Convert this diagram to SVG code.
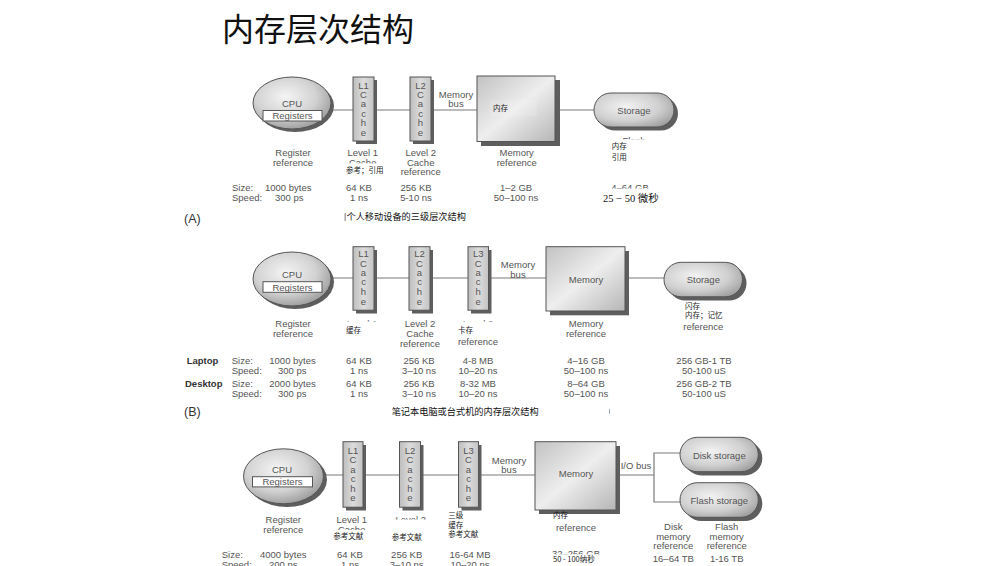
<svg xmlns="http://www.w3.org/2000/svg" width="1006" height="566" viewBox="0 0 1006 566">
  <defs>
    <radialGradient id="gEll" cx="0.42" cy="0.38" r="0.65">
      <stop offset="0" stop-color="#f4f4f4"/>
      <stop offset="0.6" stop-color="#d2d2d2"/>
      <stop offset="1" stop-color="#9c9c9c"/>
    </radialGradient>
    <radialGradient id="gPill" cx="0.4" cy="0.4" r="0.7">
      <stop offset="0" stop-color="#f2f2f2"/>
      <stop offset="0.6" stop-color="#d0d0d0"/>
      <stop offset="1" stop-color="#a0a0a0"/>
    </radialGradient>
    <linearGradient id="gMem" x1="0" y1="0" x2="1" y2="1">
      <stop offset="0" stop-color="#c2c2c2"/>
      <stop offset="0.5" stop-color="#eeeeee"/>
      <stop offset="1" stop-color="#b6b6b6"/>
    </linearGradient>
    <linearGradient id="gCache" x1="0" y1="0" x2="1" y2="0">
      <stop offset="0" stop-color="#bdbdbd"/>
      <stop offset="0.5" stop-color="#dcdcdc"/>
      <stop offset="1" stop-color="#c4c4c4"/>
    </linearGradient>
  </defs>
  <style>
    .t{font-family:"Liberation Sans",Arial,sans-serif;font-size:9.5px;fill:#555;text-anchor:middle}
    .tl{font-family:"Liberation Sans",Arial,sans-serif;font-size:9.5px;fill:#555}
    .tb{font-family:"Liberation Sans",Arial,sans-serif;font-size:9.5px;font-weight:bold;fill:#333}
    .tag{font-family:"Liberation Sans",Arial,sans-serif;font-size:12.5px;fill:#333}
    .cj{font-family:"Noto Sans CJK SC",sans-serif;font-size:7.5px;fill:#222}
    .cap{font-family:"Noto Sans CJK SC",sans-serif;font-size:9.2px;fill:#111}
    .ln{stroke:#7a7a7a;stroke-width:1.2;fill:none}
    .sh{fill:#5e5e5e}
    .ell{fill:url(#gEll);stroke:#555;stroke-width:1}
    .pill{fill:url(#gPill);stroke:#555;stroke-width:1}
    .mem{fill:url(#gMem);stroke:#555;stroke-width:1}
    .cache{fill:url(#gCache);stroke:#555;stroke-width:1}
    .reg{fill:#fff;stroke:#555;stroke-width:1}
    .wp{fill:#fff}
  </style>
  <rect width="1006" height="566" fill="#fff"/>

  <text x="222" y="41" font-family="'Noto Sans CJK SC',sans-serif" font-size="32" fill="#111">内存层次结构</text>

  <!-- connectors -->
  <g id="connectors">
    <!-- panel A -->
    <line class="ln" x1="300" y1="110" x2="353" y2="110"/>
    <line class="ln" x1="374" y1="110" x2="410" y2="110"/>
    <line class="ln" x1="431" y1="110" x2="477" y2="110"/>
    <line class="ln" x1="555" y1="110" x2="600" y2="110"/>
    <!-- panel B -->
    <line class="ln" x1="300" y1="278" x2="353" y2="278"/>
    <line class="ln" x1="374" y1="278" x2="409" y2="278"/>
    <line class="ln" x1="430" y1="278" x2="468" y2="278"/>
    <line class="ln" x1="488" y1="278" x2="546" y2="278"/>
    <line class="ln" x1="625" y1="278" x2="670" y2="278"/>
    <!-- panel C -->
    <line class="ln" x1="300" y1="475" x2="343" y2="475"/>
    <line class="ln" x1="363" y1="475" x2="399" y2="475"/>
    <line class="ln" x1="421" y1="475" x2="458" y2="475"/>
    <line class="ln" x1="478" y1="475" x2="535" y2="475"/>
    <polyline class="ln" points="616,475 654,475"/>
    <polyline class="ln" points="686,453 654,453 654,502 686,502"/>
  </g>

  <!-- ===== Panel A: personal mobile device ===== -->
  <g id="a-cpu">
    <ellipse class="sh" cx="295" cy="106" rx="39" ry="26"/>
    <ellipse class="ell" cx="292" cy="103" rx="39" ry="26"/>
    <text class="t" x="292" y="106.5">CPU</text>
    <rect class="reg" x="263" y="110.5" width="59" height="10.5"/>
    <text class="t" x="292.5" y="119.3">Registers</text>
  </g>
  <g id="a-l1">
    <rect class="sh" x="356" y="80" width="21" height="64"/>
    <rect class="cache" x="353" y="77" width="21" height="64"/>
    <text class="t" x="363.5" y="88.5">L1<tspan x="363.5" y="97.8">C</tspan><tspan x="363.5" y="107.1">a</tspan><tspan x="363.5" y="116.5">c</tspan><tspan x="363.5" y="126.1">h</tspan><tspan x="363.5" y="135.5">e</tspan></text>
  </g>
  <g id="a-l2">
    <rect class="sh" x="413" y="80" width="21" height="64"/>
    <rect class="cache" x="410" y="77" width="21" height="64"/>
    <text class="t" x="420.5" y="88.5">L2<tspan x="420.5" y="97.8">C</tspan><tspan x="420.5" y="107.1">a</tspan><tspan x="420.5" y="116.5">c</tspan><tspan x="420.5" y="126.1">h</tspan><tspan x="420.5" y="135.5">e</tspan></text>
  </g>
  <text class="t" x="456" y="97.5">Memory<tspan x="456" y="106.5">bus</tspan></text>
  <g id="a-mem">
    <rect class="sh" x="481" y="80" width="79" height="66"/>
    <rect class="mem" x="477" y="76" width="78" height="65.5"/>
    <rect x="490" y="100" width="47" height="16" fill="#fff" opacity="0.12"/>
    <text class="cj" x="493" y="110.5">内存</text>
  </g>
  <g id="a-storage">
    <rect class="sh" x="598" y="96.5" width="80" height="34" rx="17"/>
    <rect class="pill" x="594" y="93" width="80" height="34" rx="17"/>
    <text class="t" x="634" y="113.5">Storage</text>
  </g>
  <!-- panel A labels -->
  <text class="t" x="293" y="155.5">Register<tspan x="293" y="165.5">reference</tspan></text>
  <text class="t" x="362.7" y="155.5">Level 1<tspan x="362.7" y="165.5">Cache</tspan></text>
  <rect class="wp" x="343" y="163.3" width="50" height="12"/>
  <text class="cj" x="346" y="172.5">参考；引用</text>
  <text class="t" x="420.7" y="155.5">Level 2<tspan x="420.7" y="165.5">Cache</tspan><tspan x="420.7" y="174.5">reference</tspan></text>
  <text class="t" x="516.7" y="155.5">Memory<tspan x="516.7" y="165.5">reference</tspan></text>
  <text class="t" x="634" y="143.5">Flash</text>
  <rect class="wp" x="604" y="139.3" width="70" height="26"/>
  <text class="cj" x="611.7" y="148.7">内存</text>
  <text class="cj" x="611.7" y="159.5">引用</text>

  <text class="tl" x="232" y="190.5">Size:</text>
  <text class="tl" x="232" y="200.5">Speed:</text>
  <text class="tl" x="265" y="190.5">1000 bytes</text>
  <text class="tl" x="275" y="200.5">300 ps</text>
  <text class="t" x="359" y="190.5">64 KB<tspan x="359" y="200.5">1 ns</tspan></text>
  <text class="t" x="416" y="190.5">256 KB<tspan x="416" y="200.5">5-10 ns</tspan></text>
  <text class="t" x="516" y="190.5">1–2 GB<tspan x="516" y="200.5">50–100 ns</tspan></text>
  <text class="t" x="630" y="190.5">4–64 GB</text>
  <rect class="wp" x="598" y="188.6" width="68" height="16"/>
  <text x="603" y="202.3" font-family="'Liberation Serif','Noto Sans CJK SC',serif" font-size="10.5" fill="#111">25 − 50 微秒</text>

  <text class="tag" x="184" y="222.5">(A)</text>
  <rect x="344.5" y="213" width="1.3" height="8" fill="#999"/>
  <text class="cap" x="346.5" y="220">个人移动设备的三级层次结构</text>

  <!-- ===== Panel B: laptop / desktop ===== -->
  <g id="b-cpu">
    <ellipse class="sh" cx="295" cy="282" rx="39" ry="27"/>
    <ellipse class="ell" cx="292" cy="279" rx="39" ry="27"/>
    <text class="t" x="292" y="277.8">CPU</text>
    <rect class="reg" x="263" y="281.7" width="59" height="10.6"/>
    <text class="t" x="292.5" y="290.5">Registers</text>
  </g>
  <g id="b-l1">
    <rect class="sh" x="356" y="250" width="21" height="63.5"/>
    <rect class="cache" x="353" y="246.7" width="21" height="63.5"/>
    <text class="t" x="363.5" y="256.8">L1<tspan x="363.5" y="266.8">C</tspan><tspan x="363.5" y="276.2">a</tspan><tspan x="363.5" y="285.2">c</tspan><tspan x="363.5" y="295.2">h</tspan><tspan x="363.5" y="305.2">e</tspan></text>
  </g>
  <g id="b-l2">
    <rect class="sh" x="412" y="250" width="21" height="63.5"/>
    <rect class="cache" x="409" y="246.7" width="21" height="63.5"/>
    <text class="t" x="419.5" y="256.8">L2<tspan x="419.5" y="266.8">C</tspan><tspan x="419.5" y="276.2">a</tspan><tspan x="419.5" y="285.2">c</tspan><tspan x="419.5" y="295.2">h</tspan><tspan x="419.5" y="305.2">e</tspan></text>
  </g>
  <g id="b-l3">
    <rect class="sh" x="471" y="250" width="20.5" height="63.5"/>
    <rect class="cache" x="468" y="246.7" width="20.5" height="63.5"/>
    <text class="t" x="478.2" y="256.8">L3<tspan x="478.2" y="266.8">C</tspan><tspan x="478.2" y="276.2">a</tspan><tspan x="478.2" y="285.2">c</tspan><tspan x="478.2" y="295.2">h</tspan><tspan x="478.2" y="305.2">e</tspan></text>
  </g>
  <text class="t" x="518" y="267.8">Memory<tspan x="518" y="277.5">bus</tspan></text>
  <g id="b-mem">
    <rect class="sh" x="550" y="251" width="79" height="64.3"/>
    <rect class="mem" x="546" y="246.7" width="79" height="64.3"/>
    <text class="t" x="586" y="282.5">Memory</text>
  </g>
  <g id="b-storage">
    <rect class="sh" x="668" y="266" width="78.5" height="34.5" rx="17.2"/>
    <rect class="pill" x="664" y="262.3" width="78.5" height="34.5" rx="17.2"/>
    <text class="t" x="703.3" y="282.5">Storage</text>
  </g>
  <!-- panel B labels -->
  <text class="t" x="293" y="326.5">Register<tspan x="293" y="336.5">reference</tspan></text>
  <text class="t" x="362" y="326.5">Level 1</text>
  <rect class="wp" x="343" y="321.6" width="52" height="24"/>
  <text class="cj" x="346" y="333" font-size="7">缓存</text>
  <text class="t" x="420" y="326.5">Level 2<tspan x="420" y="336.5">Cache</tspan><tspan x="420" y="346.5">reference</tspan></text>
  <text class="t" x="478" y="326.5">Level 3</text>
  <rect class="wp" x="455" y="321.6" width="46" height="12"/>
  <text class="cj" x="458" y="332.5" font-size="6.5">卡存</text>
  <text class="t" x="478" y="345">reference</text>
  <text class="t" x="586" y="326.5">Memory<tspan x="586" y="336.5">reference</tspan></text>
  <text class="cj" x="685" y="308.5" font-size="7">闪存</text>
  <text class="cj" x="685" y="317.8" font-size="7">内存；记忆</text>
  <text class="t" x="703.3" y="330">reference</text>

  <text class="tb" x="186.7" y="363.5">Laptop</text>
  <text class="tl" x="231.7" y="363.5">Size:</text>
  <text class="tl" x="231.7" y="373.5">Speed:</text>
  <text class="tl" x="269.3" y="363.5">1000 bytes</text>
  <text class="tl" x="278" y="373.5">300 ps</text>
  <text class="t" x="359" y="363.5">64 KB<tspan x="359" y="373.5">1 ns</tspan></text>
  <text class="t" x="419" y="363.5">256 KB<tspan x="419" y="373.5">3–10 ns</tspan></text>
  <text class="t" x="478" y="363.5">4-8 MB<tspan x="478" y="373.5">10–20 ns</tspan></text>
  <text class="t" x="586" y="363.5">4–16 GB<tspan x="586" y="373.5">50–100 ns</tspan></text>
  <text class="t" x="704" y="363.5">256 GB-1 TB<tspan x="704" y="373.5">50-100 uS</tspan></text>

  <text class="tb" x="185" y="386.5">Desktop</text>
  <text class="tl" x="231.7" y="386.5">Size:</text>
  <text class="tl" x="231.7" y="396.5">Speed:</text>
  <text class="tl" x="269.3" y="386.5">2000 bytes</text>
  <text class="tl" x="278" y="396.5">300 ps</text>
  <text class="t" x="359" y="386.5">64 KB<tspan x="359" y="396.5">1 ns</tspan></text>
  <text class="t" x="419" y="386.5">256 KB<tspan x="419" y="396.5">3–10 ns</tspan></text>
  <text class="t" x="478" y="386.5">8-32  MB<tspan x="478" y="396.5">10–20 ns</tspan></text>
  <text class="t" x="586" y="386.5">8–64 GB<tspan x="586" y="396.5">50–100 ns</tspan></text>
  <text class="t" x="704" y="386.5">256 GB-2 TB<tspan x="704" y="396.5">50-100 uS</tspan></text>

  <text class="tag" x="184" y="416">(B)</text>
  <text class="cap" x="391.7" y="414.5">笔记本电脑或台式机的内存层次结构</text>
  <rect x="609" y="409" width="1" height="5" fill="#9ab"/>

  <!-- ===== Panel C: server ===== -->
  <g id="c-cpu">
    <ellipse class="sh" cx="287" cy="479.5" rx="40" ry="27.5"/>
    <ellipse class="ell" cx="283.5" cy="476.3" rx="40" ry="27.5"/>
    <text class="t" x="282" y="472.8">CPU</text>
    <rect class="reg" x="252.5" y="476.7" width="60" height="10.2"/>
    <text class="t" x="282.5" y="485.3">Registers</text>
  </g>
  <g id="c-l1">
    <rect class="sh" x="346" y="445" width="20" height="65.5"/>
    <rect class="cache" x="343" y="441.7" width="20" height="65.5"/>
    <text class="t" x="353" y="453.5">L1<tspan x="353" y="462.8">C</tspan><tspan x="353" y="472.8">a</tspan><tspan x="353" y="481.8">c</tspan><tspan x="353" y="491.8">h</tspan><tspan x="353" y="500.8">e</tspan></text>
  </g>
  <g id="c-l2">
    <rect class="sh" x="402.5" y="445" width="21" height="65.5"/>
    <rect class="cache" x="399.5" y="441.7" width="21" height="65.5"/>
    <text class="t" x="410" y="453.5">L2<tspan x="410" y="462.8">C</tspan><tspan x="410" y="472.8">a</tspan><tspan x="410" y="481.8">c</tspan><tspan x="410" y="491.8">h</tspan><tspan x="410" y="500.8">e</tspan></text>
  </g>
  <g id="c-l3">
    <rect class="sh" x="461.5" y="445" width="20" height="65.5"/>
    <rect class="cache" x="458.5" y="441.7" width="20" height="65.5"/>
    <text class="t" x="468.5" y="453.5">L3<tspan x="468.5" y="462.8">C</tspan><tspan x="468.5" y="472.8">a</tspan><tspan x="468.5" y="481.8">c</tspan><tspan x="468.5" y="491.8">h</tspan><tspan x="468.5" y="500.8">e</tspan></text>
  </g>
  <text class="t" x="509" y="463.5">Memory<tspan x="509" y="473.2">bus</tspan></text>
  <g id="c-mem">
    <rect class="sh" x="539" y="446" width="81" height="68"/>
    <rect class="mem" x="535" y="441.7" width="81" height="68.3"/>
    <text class="t" x="576" y="476.8">Memory</text>
  </g>
  <text class="tl" x="620.7" y="468.5">I/O bus</text>
  <g id="c-disk">
    <rect class="sh" x="684" y="441" width="78.3" height="34.4" rx="17.2"/>
    <rect class="pill" x="680" y="437.3" width="78.3" height="34.4" rx="17.2"/>
    <text class="t" x="719.3" y="458.5">Disk storage</text>
  </g>
  <g id="c-flash">
    <rect class="sh" x="684" y="486.4" width="78.3" height="34.6" rx="17.3"/>
    <rect class="pill" x="680" y="482.7" width="78.3" height="34.6" rx="17.3"/>
    <text class="t" x="719.3" y="503.5">Flash storage</text>
  </g>
  <!-- panel C labels -->
  <text class="t" x="283.3" y="523">Register<tspan x="283.3" y="532.5">reference</tspan></text>
  <text class="t" x="351.7" y="523">Level 1<tspan x="351.7" y="532.5">Cache</tspan></text>
  <rect class="wp" x="330" y="530" width="57" height="14"/>
  <text class="cj" x="333.3" y="538.7">参考文献</text>
  <text class="t" x="410.7" y="523">Level 2</text>
  <rect class="wp" x="388" y="519.6" width="58" height="24"/>
  <text class="cj" x="391.7" y="540" font-size="8.8">参考文献</text>
  <text class="cj" x="448.3" y="517.7" font-size="6.8">三级</text>
  <text class="cj" x="448.3" y="527.7" font-size="6.8">缓存</text>
  <text class="cj" x="448.3" y="536.7" font-size="6.8">参考文献</text>
  <text class="cj" x="553" y="517.5" font-size="7">内存</text>
  <text class="t" x="576" y="530.5">reference</text>
  <text class="t" x="673.3" y="529.5">Disk<tspan x="673.3" y="540">memory</tspan><tspan x="673.3" y="549">reference</tspan></text>
  <text class="t" x="726.7" y="529.5">Flash<tspan x="726.7" y="540">memory</tspan><tspan x="726.7" y="549">reference</tspan></text>

  <text class="tl" x="221.7" y="557.5">Size:</text>
  <text class="tl" x="221.7" y="567.5">Speed:</text>
  <text class="tl" x="260" y="557.5">4000 bytes</text>
  <text class="tl" x="269" y="567.5">200 ps</text>
  <text class="t" x="350" y="557.5">64 KB<tspan x="350" y="567.5">1 ns</tspan></text>
  <text class="t" x="406.7" y="557.5">256 KB<tspan x="406.7" y="567.5">3–10 ns</tspan></text>
  <text class="t" x="470" y="557.5">16-64 MB<tspan x="470" y="567.5">10–20 ns</tspan></text>
  <text class="t" x="576" y="556.5">32–256 GB</text>
  <rect class="wp" x="548" y="554.3" width="62" height="12"/>
  <text class="cj" x="553" y="562.3" font-size="7.8">50 - 100纳秒</text>
  <text class="t" x="673.3" y="562">16–64 TB<tspan x="673.3" y="572">5–10 ms</tspan></text>
  <text class="t" x="726.7" y="562">1-16 TB<tspan x="726.7" y="572">100-200 us</tspan></text>
</svg>
